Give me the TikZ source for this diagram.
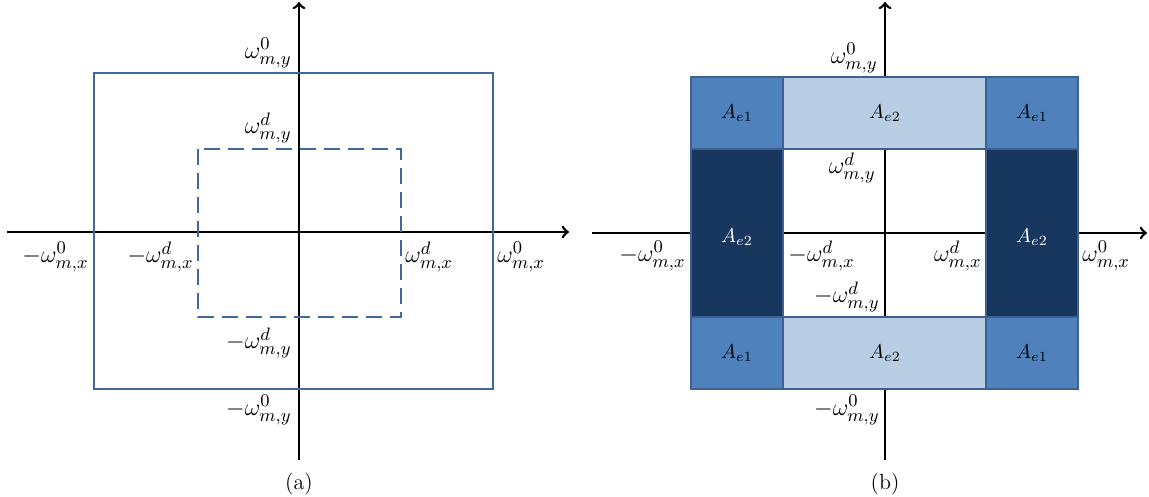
\documentclass[tikz,border=0pt]{standalone}
\usepackage{tikz}

\definecolor{rimblue}{HTML}{41689C}
\definecolor{cornerblue}{HTML}{4F81BD}
\definecolor{bandblue}{HTML}{B9CDE5}
\definecolor{navyblue}{HTML}{17375E}
\definecolor{cellrim}{HTML}{3D628F}

\begin{document}
\begin{tikzpicture}[x=0.5pt,y=-0.5pt,every path/.style={>=to},
  lbl/.style={inner sep=0pt,font=\fontsize{13}{15}\selectfont},
  area/.style={inner sep=0pt,font=\fontsize{10}{12}\selectfont},
  axis/.style={line width=1.3pt,->},
  rim/.style={draw=rimblue,line width=1.3pt},
  cornercell/.style={fill=cornerblue,draw=cellrim,line width=0.8pt},
  bandcell/.style={fill=bandblue,draw=cellrim,line width=0.8pt},
  sidecell/.style={fill=navyblue,draw=cellrim,line width=0.8pt}]
\useasboundingbox (0,0) rectangle (1149,497);

% (a)
\coordinate      (aW) at (7,232);
\coordinate      (aE) at (569,232);
\coordinate      (aS) at (299,460);
\coordinate      (aN) at (299,2);
\draw[axis]           (aW) -- (aE);
\draw[axis]           (aS) -- (aN);
\draw[rim]            (94,73) rectangle (493,389);
\draw[rim,dash pattern=on 8pt off 4pt] (198,149) rectangle (401,317);
\node[lbl,anchor=east] (ayo) at (292,53)  {$\omega_{m,y}^{0}$};
\node[lbl,anchor=east] (ayd) at (292,128) {$\omega_{m,y}^{d}$};
\node[lbl,anchor=east] (anyd) at (292,343) {$-\omega_{m,y}^{d}$};
\node[lbl,anchor=east] (anyo) at (292,410) {$-\omega_{m,y}^{0}$};
\node[lbl,anchor=east] (anxo) at (89,257)  {$-\omega_{m,x}^{0}$};
\node[lbl,anchor=east] (anxd) at (194,257) {$-\omega_{m,x}^{d}$};
\node[lbl,anchor=west] (axd) at (405,257) {$\omega_{m,x}^{d}$};
\node[lbl,anchor=west] (axo) at (497,257) {$\omega_{m,x}^{0}$};
\node[area,font=\fontsize{11}{13}\selectfont] (capa) at (299,484) {(a)};

% (b)
\coordinate      (bW) at (592,233);
\coordinate      (bE) at (1147,233);
\coordinate      (bS) at (885,460);
\coordinate      (bN) at (885,2);
\draw[axis]           (bW) -- (bE);
\draw[axis]           (bS) -- (bN);
\draw[cornercell]     (691,77)  rectangle (783,149);
\draw[bandcell]       (783,77)  rectangle (986,149);
\draw[cornercell]     (986,77)  rectangle (1078,149);
\draw[sidecell]       (691,149) rectangle (783,317);
\draw[sidecell]       (986,149) rectangle (1078,317);
\draw[cornercell]     (691,317) rectangle (783,389);
\draw[bandcell]       (783,317) rectangle (986,389);
\draw[cornercell]     (986,317) rectangle (1078,389);
\node[area]      (tl) at (737,113)  {$A_{e1}$};
\node[area]      (tm) at (885,113)  {$A_{e2}$};
\node[area]      (tr) at (1032,113) {$A_{e1}$};
\node[area,text=white] (ml) at (737,237) {$A_{e2}$};
\node[area,text=white] (mr) at (1032,237) {$A_{e2}$};
\node[area]      (bl) at (737,353)  {$A_{e1}$};
\node[area]      (bm) at (885,353)  {$A_{e2}$};
\node[area]      (br) at (1032,353) {$A_{e1}$};
\node[lbl,anchor=east] (byo) at (878,58)  {$\omega_{m,y}^{0}$};
\node[lbl,anchor=east] (byd) at (876,168) {$\omega_{m,y}^{d}$};
\node[lbl,anchor=east] (bnyd) at (880,297) {$-\omega_{m,y}^{d}$};
\node[lbl,anchor=east] (bnyo) at (880,410) {$-\omega_{m,y}^{0}$};
\node[lbl,anchor=east] (bnxo) at (686,256) {$-\omega_{m,x}^{0}$};
\node[lbl,anchor=west] (bnxd) at (788,256) {$-\omega_{m,x}^{d}$};
\node[lbl,anchor=east] (bxd) at (982,256) {$\omega_{m,x}^{d}$};
\node[lbl,anchor=west] (bxo) at (1082,256) {$\omega_{m,x}^{0}$};
\node[area,font=\fontsize{11}{13}\selectfont] (capb) at (885,484) {(b)};
\end{tikzpicture}
\end{document}
